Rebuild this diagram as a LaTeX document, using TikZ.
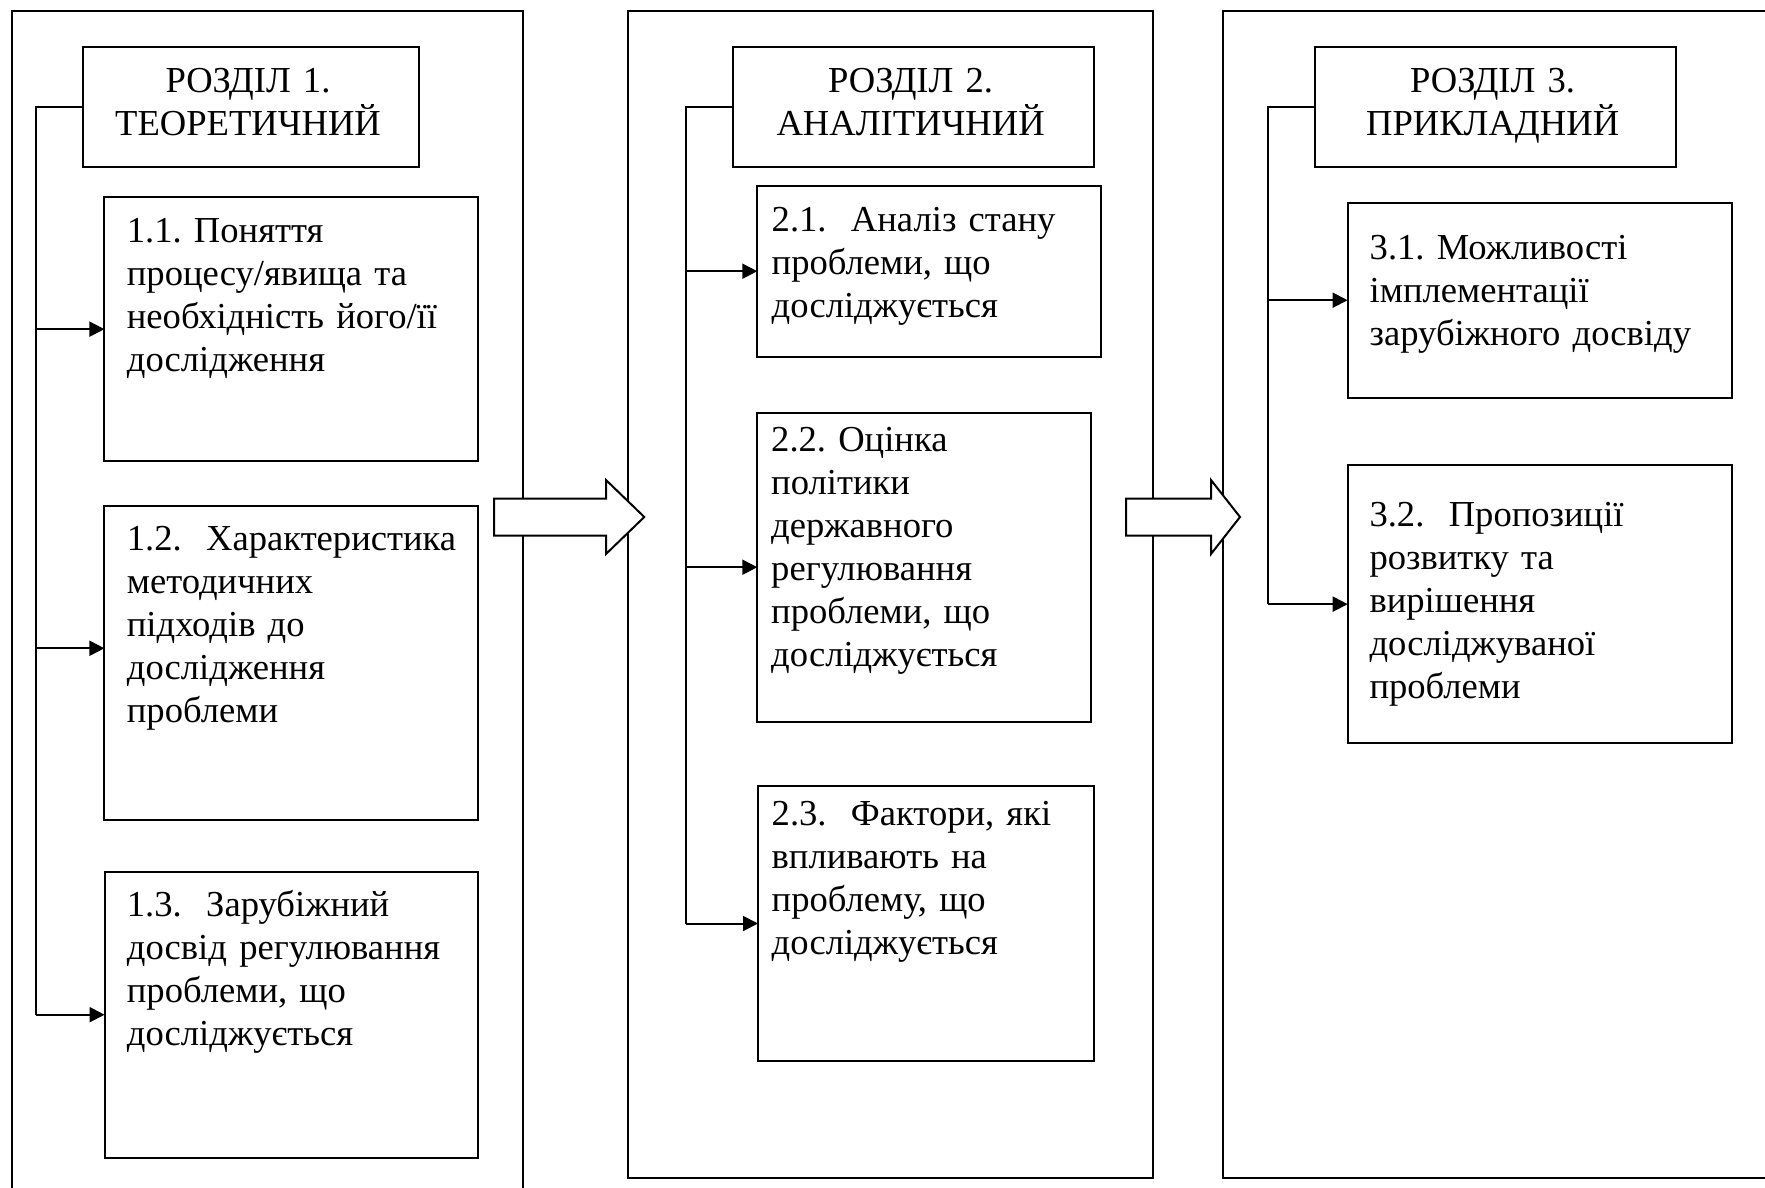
\documentclass[tikz,border=0pt]{standalone}
\usepackage{fontspec}
\setmainfont{Liberation Serif}
\usetikzlibrary{arrows.meta}
\frenchspacing

\def\blockarrow#1#2#3{(#1,498.5) -- (#2,498.5) -- (#2,480) -- (#3,517) -- (#2,554) -- (#2,535.5) -- (#1,535.5) -- cycle}

\tikzset{
	frame/.style={draw, line width=2pt, inner sep=0pt, outer sep=0pt, anchor=north west},
	txt/.style={font=\fontsize{36.6pt}{43pt}\selectfont, inner sep=0pt, text width=420pt, align=left, anchor=base west},
	hdrtxt/.style={txt, align=center, text width=340pt, anchor=base},
	conn/.style={line width=2pt, -{Triangle[length=15pt, width=15pt]}},
	bus/.style={line width=2pt}
}

\begin{document}
\begin{tikzpicture}[x=1pt, y=-1pt]
	\clip (0,0) rectangle (1765,1188);
	\fill[white] (0,0) rectangle (1765,1188);

	% panels
	\node[frame, minimum width=511.6pt, minimum height=1199pt] (p1) at (11.7,11) {};
	\node[frame, minimum width=525pt, minimum height=1167pt] (p2) at (627.7,11) {};
	\node[frame, minimum width=576.7pt, minimum height=1167pt] (p3) at (1223.3,11) {};

	\filldraw[fill=white, line width=2pt] \blockarrow{494}{606}{644.3};
	\filldraw[fill=white, line width=2pt] \blockarrow{1126}{1211}{1240};

	% headers
	\node[frame, minimum width=335.4pt, minimum height=120pt] (h1) at (83.3,46.7) {};
	\node[frame, minimum width=360.7pt, minimum height=120pt] (h2) at (733.3,46.7) {};
	\node[frame, minimum width=361.3pt, minimum height=120pt] (h3) at (1315,46.7) {};
	\node[hdrtxt] (h1t) at ([xshift=-3pt, yshift=-45.6pt]h1.north) {РОЗДІЛ 1.\\ТЕОРЕТИЧНИЙ};
	\node[hdrtxt] (h2t) at ([xshift=-3pt, yshift=-45.6pt]h2.north) {РОЗДІЛ 2.\\АНАЛІТИЧНИЙ};
	\node[hdrtxt] (h3t) at ([xshift=-3pt, yshift=-45.6pt]h3.north) {РОЗДІЛ 3.\\ПРИКЛАДНИЙ};

	% boxes
	\node[frame, minimum width=373.4pt, minimum height=263.7pt] (b11) at (104.4,197.3) {};
	\node[frame, minimum width=373.4pt, minimum height=314.3pt] (b12) at (104.4,505.7) {};
	\node[frame, minimum width=373.8pt, minimum height=286pt] (b13) at (104.6,871.7) {};
	\node[frame, minimum width=343.4pt, minimum height=171pt] (b21) at (757.3,185.7) {};
	\node[frame, minimum width=333.2pt, minimum height=309pt] (b22) at (757.3,412.7) {};
	\node[frame, minimum width=336pt, minimum height=275pt] (b23) at (758,786) {};
	\node[frame, minimum width=384pt, minimum height=195pt] (b31) at (1347.6,202.7) {};
	\node[frame, minimum width=384pt, minimum height=278.3pt] (b32) at (1347.7,465) {};

	\node[txt] (t11) at ([xshift=22.3pt, yshift=-45.4pt]b11.north west) {1.1. Поняття\\процесу/явища та\\необхідність його/її\\дослідження};
	\node[txt] (t12) at ([xshift=22.3pt, yshift=-44.3pt]b12.north west) {1.2.\ \ Характеристика\\методичних\\підходів до\\дослідження\\проблеми};
	\node[txt] (t13) at ([xshift=22.1pt, yshift=-45pt]b13.north west) {1.3.\ \ Зарубіжний\\досвід регулювання\\проблеми, що\\досліджується};
	\node[txt] (t21) at ([xshift=14.2pt, yshift=-46pt]b21.north west) {2.1.\ \ Аналіз стану\\проблеми, що\\досліджується};
	\node[txt] (t22) at ([xshift=13.7pt, yshift=-39pt]b22.north west) {2.2. Оцінка\\політики\\державного\\регулювання\\проблеми, що\\досліджується};
	\node[txt] (t23) at ([xshift=13.5pt, yshift=-39pt]b23.north west) {2.3.\ \ Фактори, які\\впливають на\\проблему, що\\досліджується};
	\node[txt] (t31) at ([xshift=21.9pt, yshift=-56.6pt]b31.north west) {3.1. Можливості\\імплементації\\зарубіжного досвіду};
	\node[txt] (t32) at ([xshift=21.6pt, yshift=-61.7pt]b32.north west) {3.2.\ \ Пропозиції\\розвитку та\\вирішення\\досліджуваної\\проблеми};

	% connectors
	\coordinate (bus1) at (36,0);
	\coordinate (bus2) at (686,0);
	\coordinate (bus3) at (1267.7,0);
	\coordinate (b12in) at ([yshift=14.6pt]b12.west);

	\draw[bus] (h1.west) -| (bus1 |- b13.west);
	\draw[conn] (bus1 |- b11.west) -- (b11.west);
	\draw[conn] (bus1 |- b12in) -- (b12in);
	\draw[conn] (bus1 |- b13.west) -- (b13.west);

	\draw[bus] (h2.west) -| (bus2 |- b23.west);
	\draw[conn] (bus2 |- b21.west) -- (b21.west);
	\draw[conn] (bus2 |- b22.west) -- (b22.west);
	\draw[conn] (bus2 |- b23.west) -- (b23.west);

	\draw[bus] (h3.west) -| (bus3 |- b32.west);
	\draw[conn] (bus3 |- b31.west) -- (b31.west);
	\draw[conn] (bus3 |- b32.west) -- (b32.west);
\end{tikzpicture}
\end{document}
